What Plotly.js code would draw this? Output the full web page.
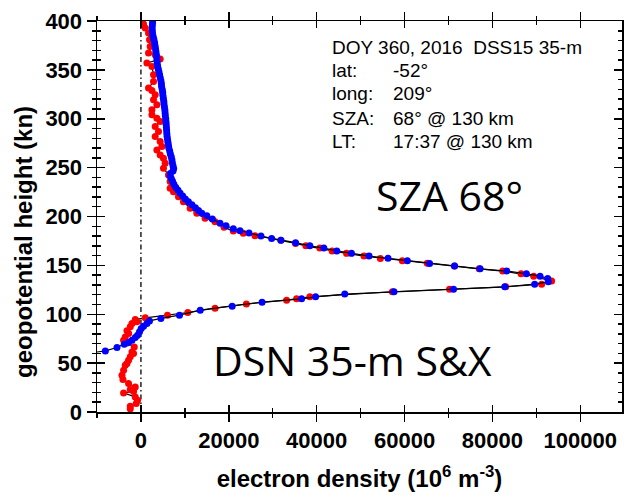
<!DOCTYPE html>
<html>
<head>
<meta charset="utf-8">
<script src="https://cdn.plot.ly/plotly-3.0.1.min.js"></script>
<style>html,body{margin:0;padding:0;background:#fff}#chart{width:624px;height:496px}</style>
</head>
<body>
<div id="chart"></div>
<script>
// Red series (altitude km, electron density 1e6 m^-3)
const redAlt = [3.1,5.8,8.6,12,15.4,19.5,21,22.9,25.6,29.1,33.2,37.6,42.7,47.8,49.6,53,56.4,59.8,61.5,66.6,70.7,73.5,76.8,80.3,83,87.1,90.6,92.2,94.7,96.3,99.1,101.8,106.2,110.5,114.4,115.8,117.8,123,125.7,128.1,130.8,133.9,139,141.4,144.2,146.5,149.3,152.3,154.7,157,159.5,162.3,164.8,167.7,170,172.5,175.6,180.3,182.8,185.1,188.9,194.7,198.2,203.3,208.4,215.2,220.3,225.4,228.9,235.7,242.5,249.4,254.5,259.6,263,268.1,271.5,276.6,281.8,286.9,292,297.1,300.6,304,309.1,314.2,319.4,324.5,328.9,331.4,338.1,345,353.5,357,361,365.5,367.2,374,380.8,387.7,392.8,397];
const redNe = [-2430,-2430,-1070,-770,-1290,-3950,-1680,-2430,-1290,-2820,-4090,-4320,-3950,-3570,-3180,-2820,-2430,-1680,-2040,-1520,-3180,-3950,-3570,-2800,-3180,-2430,-2040,-910,-1290,980,6040,10670,16870,24000,33160,35430,38450,57230,70250,83040,91210,93480,89400,86530,82350,77000,71380,65180,59500,54500,50780,46790,43520,40720,37540,35200,31860,25960,23300,21030,18920,16870,14600,12720,11200,9680,8540,7400,6650,6650,6270,5130,5520,5130,4380,3630,4770,4380,3250,4000,3250,4380,3630,2500,2500,3630,2860,3250,2500,1730,2860,2860,2500,1360,4380,3250,1730,2110,1950,1730,980,590];

// Blue series
const blueAlt = [60.5,62.5,66,69.4,71.1,73.5,76.2,78.6,82,85.4,87.8,90.6,93.2,95.7,99.1,104.2,108.3,112.4,115.8,117.8,120.6,123,125.7,128.1,130.8,133.2,136.7,139,141.4,144.2,146.5,149.3,152,154.7,157.2,159.5,162.3,164.8,167.7,170,173.2,175.6,177.6,180,183,185.4,187.5,190.6,193,197.4,200.8,203.3,206.2,209,212,215,218,221,224,227,230,233,236,239,241.5,244,246.5,249,252,255,258,261,264,267,270,273,276,279,282,285,288,291,294,297,300,303,306,309,312,315,318,321,324,327,330,333,336,339,342,345,348,351,354,357,360,363,366,369,372,375,378,381,384,387,390,393,396,398.5];
const blueNe = [-11500,-8100,-5450,-3790,-2820,-2040,-1290,-770,-320,70,590,1360,1950,4540,8770,13500,20770,27570,36570,39750,46400,57600,71160,82810,89620,92730,92580,90850,87740,83260,77200,71380,65700,60640,56240,51920,47920,44580,41630,38450,35200,31860,29750,27320,24600,22550,21030,19370,18010,16260,15000,13850,13100,12400,11600,10800,10100,9500,8900,8400,7900,7500,7200,6900,6650,6700,7300,7450,7300,7150,7050,6900,6700,6550,6350,6250,6150,6050,5950,5900,5850,5800,5750,5700,5650,5550,5500,5450,5350,5250,5200,5100,5000,4950,4850,4700,4650,4550,4400,4250,4100,3950,3800,3700,3650,3600,3500,3400,3300,3200,3100,2950,2800,2650,2600,2550,2600,2650];

const xTicks = [0,20000,40000,60000,80000,100000];
const yTicks = [0,50,100,150,200,250,300,350,400];
const infoLabels = ["lat:","long:","SZA:","LT:"];
const infoValues = ["-52°","209°","68° @ 130 km","17:37 @ 130 km"];
const headerText = "DOY 360, 2016  DSS15 35-m";

const xRange = [-10000, 109500];
const yRange = [0, 400];
const tickFont = {family: "Liberation Sans, Arial, sans-serif", size: 22, color: "#000", weight: "bold"};
const infoFont = {family: "Liberation Sans, Arial, sans-serif", size: 19, color: "#000"};

const traces = [
  {x: redNe, y: redAlt, xaxis: "x", yaxis: "y", type: "scatter", mode: "lines+markers",
   line: {color: "#000", width: 1.2}, marker: {color: "#ff0000", size: 7}, cliponaxis: true},
  {x: blueNe, y: blueAlt, xaxis: "x2", yaxis: "y2", type: "scatter", mode: "lines+markers",
   line: {color: "#000", width: 1.2}, marker: {color: "#0000ff", size: 7}, cliponaxis: true}
];

const common = {showgrid: false, zeroline: false, showline: true, linecolor: "#000", linewidth: 1.5,
  tickcolor: "#000", tickwidth: 1.5, mirror: "allticks"};

const annotations = [
  {text: headerText, xref: "paper", yref: "paper", x: 0.4438, y: 0.9335, xanchor: "left", yanchor: "middle", showarrow: false, font: infoFont},
  {text: "SZA 68°", xref: "paper", yref: "paper", x: 0.6705, y: 0.555, xanchor: "center", yanchor: "middle", showarrow: false,
   font: {family: "Open Sans, Noto Sans, sans-serif", size: 41, color: "#000"}},
  {text: "DSN 35-m S&X", xref: "paper", yref: "paper", x: 0.4876, y: 0.133, xanchor: "center", yanchor: "middle", showarrow: false,
   font: {family: "Open Sans, Noto Sans, sans-serif", size: 41, color: "#000"}},
  {text: "geopotential height (kn)", xref: "paper", yref: "paper", x: -0.139, y: 0.435, xanchor: "center", yanchor: "middle",
   textangle: -90, showarrow: false, font: {family: "Liberation Sans, Arial, sans-serif", size: 24, color: "#000", weight: "bold"}}
];
const infoY = [0.8734, 0.8133, 0.7519, 0.6918];
infoLabels.forEach((t, i) => {
  annotations.push({text: t, xref: "paper", yref: "paper", x: 0.4438, y: infoY[i], xanchor: "left", yanchor: "middle", showarrow: false, font: infoFont});
  annotations.push({text: infoValues[i], xref: "paper", yref: "paper", x: 0.56, y: infoY[i], xanchor: "left", yanchor: "middle", showarrow: false, font: infoFont});
});

const layout = {
  width: 624, height: 496,
  margin: {l: 97, r: 2, t: 21, b: 84, pad: 0},
  paper_bgcolor: "#fff", plot_bgcolor: "rgba(0,0,0,0)",
  showlegend: false,
  xaxis: Object.assign({}, common, {range: xRange, tickmode: "array", tickvals: xTicks, ticktext: xTicks.map(String),
    ticks: "outside", ticklen: 8, tickfont: tickFont,
    minor: {dtick: 10000, ticks: "outside", ticklen: 4, tickwidth: 1.5, tickcolor: "#000"},
    title: {text: "electron density (10<sup>6</sup> m<sup>-3</sup>)", standoff: 18,
      font: {family: "Liberation Sans, Arial, sans-serif", size: 24, color: "#000", weight: "bold"}}}),
  yaxis: Object.assign({}, common, {range: yRange, tickmode: "array", tickvals: yTicks, ticktext: yTicks.map(String),
    ticks: "outside", ticklen: 9, tickfont: tickFont,
    minor: {dtick: 10, ticks: "outside", ticklen: 4, tickwidth: 1.5, tickcolor: "#000"}}),
  xaxis2: Object.assign({}, common, {range: xRange, overlaying: "x", anchor: "y2", tickvals: xTicks,
    ticks: "inside", ticklen: 7, showticklabels: false,
    minor: {dtick: 10000, ticks: "inside", ticklen: 4, tickwidth: 1.5, tickcolor: "#000"}}),
  yaxis2: Object.assign({}, common, {range: yRange, overlaying: "y", anchor: "x2", tickvals: yTicks,
    ticks: "inside", ticklen: 8, showticklabels: false,
    minor: {dtick: 10, ticks: "inside", ticklen: 4, tickwidth: 1.5, tickcolor: "#000"}}),
  shapes: [{type: "line", xref: "x", yref: "paper", x0: 0, x1: 0, y0: 0, y1: 1, layer: "below",
    line: {color: "#000", width: 1.3, dash: "5px,3px,1.5px,3px"}}],
  annotations: annotations
};

Plotly.newPlot("chart", traces, layout, {displayModeBar: false, staticPlot: true});
</script>
</body>
</html>
